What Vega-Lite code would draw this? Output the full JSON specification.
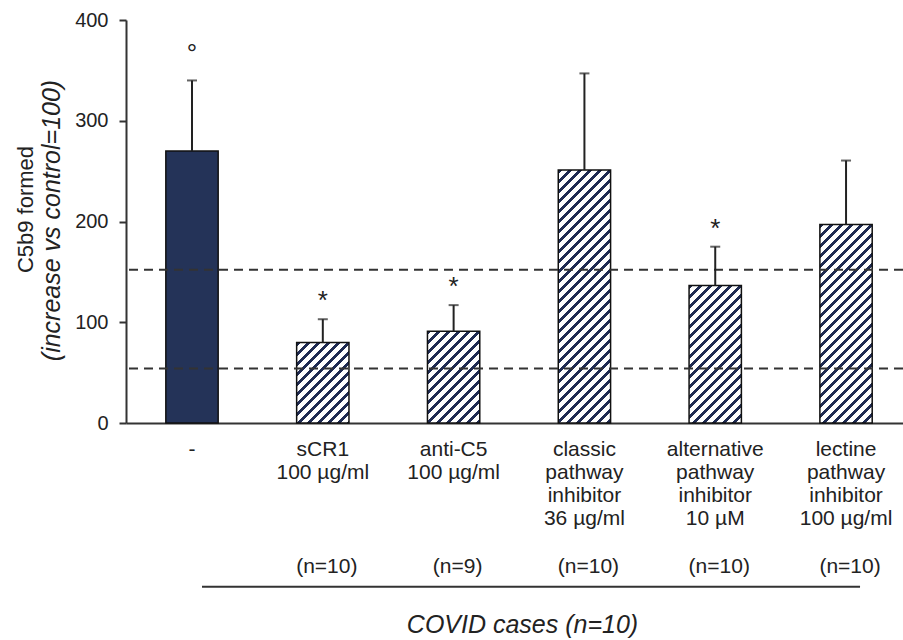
{
  "$schema": "https://vega.github.io/schema/vega-lite/v6.json",
  "width": 777,
  "height": 403,
  "autosize": {"type": "none"},
  "padding": {"left": 126, "top": 20, "right": 0, "bottom": 217},
  "background": "white",
  "config": {"view": {"stroke": null}, "font": "Liberation Sans", "axis": {"grid": false}},
  "data": {"values": [
    {"name": "-", "label": "-", "mean": 270, "upper": 340, "sig": "°"},
    {"name": "sCR1", "label": "sCR1|100 µg/ml#(n=10)", "mean": 80, "upper": 103, "sig": "*"},
    {"name": "anti-C5", "label": "anti-C5|100 µg/ml#(n=9)", "mean": 91, "upper": 117, "sig": "*"},
    {"name": "classic", "label": "classic|pathway|inhibitor|36 µg/ml#(n=10)", "mean": 251, "upper": 347, "sig": ""},
    {"name": "alternative", "label": "alternative|pathway|inhibitor|10 µM#(n=10)", "mean": 136.6, "upper": 175, "sig": "*"},
    {"name": "lectine", "label": "lectine|pathway|inhibitor|100 µg/ml#(n=10)", "mean": 197, "upper": 260.5, "sig": ""}
  ]},
  "layer": [
    {
      "mark": {"type": "bar", "stroke": "#111", "strokeWidth": 1.5},
      "encoding": {
        "x": {
          "field": "label", "type": "nominal", "sort": null,
          "scale": {
            "domain": ["-", "sCR1|100 µg/ml#(n=10)", "anti-C5|100 µg/ml#(n=9)", "classic|pathway|inhibitor|36 µg/ml#(n=10)", "alternative|pathway|inhibitor|10 µM#(n=10)", "lectine|pathway|inhibitor|100 µg/ml#(n=10)"],
            "paddingInner": 0.6, "paddingOuter": 0.27, "align": 0.564
          },
          "axis": {
            "orient": "bottom",
            "title": "COVID cases (n=10)",
            "labelExpr": "split(split(datum.value, '#')[0], '|')",
            "labelAngle": 0, "labelAlign": "center", "labelBaseline": "top",
            "labelFontSize": 21, "labelLineHeight": 23.3, "labelPadding": 15,
            "labelColor": "#222", "labelLimit": 0, "labelOverlap": false, "labelBound": false,
            "ticks": false, "domainColor": "#333", "domainWidth": 2,
            "titleFontSize": 25, "titleFontStyle": "italic", "titleFontWeight": "normal", "titleColor": "#222",
            "titleX": 396, "titleY": 201, "titleBaseline": "middle", "titleAlign": "center"
          }
        },
        "y": {
          "field": "mean", "type": "quantitative",
          "scale": {"domain": [0, 400], "nice": false},
          "axis": {
            "orient": "left",
            "title": "C5b9 formed", "values": [0, 100, 200, 300, 400],
            "domainColor": "#333", "domainWidth": 2, "tickColor": "#333", "tickWidth": 2, "tickSize": 7,
            "labelFontSize": 20, "labelColor": "#222", "labelPadding": 11,
            "titleFontSize": 22, "titleFontWeight": "normal", "titleColor": "#222",
            "titleX": -101, "titleY": 189, "titleAngle": -90, "titleAlign": "center", "titleBaseline": "middle"
          }
        },
        "fill": {
          "condition": [
            {"test": "datum.name === 'sCR1'", "value": {"gradient": "linear", "x1": 0, "y1": 0, "x2": 1.81288, "y2": 2.79384, "stops": [
              {"offset": 0, "color": "#1f2b52"}, {"offset": 0.0125, "color": "#1f2b52"}, {"offset": 0.0125, "color": "#fff"}, {"offset": 0.03125, "color": "#fff"},
              {"offset": 0.03125, "color": "#1f2b52"}, {"offset": 0.04375, "color": "#1f2b52"}, {"offset": 0.04375, "color": "#fff"}, {"offset": 0.0625, "color": "#fff"},
              {"offset": 0.0625, "color": "#1f2b52"}, {"offset": 0.075, "color": "#1f2b52"}, {"offset": 0.075, "color": "#fff"}, {"offset": 0.09375, "color": "#fff"},
              {"offset": 0.09375, "color": "#1f2b52"}, {"offset": 0.10625, "color": "#1f2b52"}, {"offset": 0.10625, "color": "#fff"}, {"offset": 0.125, "color": "#fff"},
              {"offset": 0.125, "color": "#1f2b52"}, {"offset": 0.1375, "color": "#1f2b52"}, {"offset": 0.1375, "color": "#fff"}, {"offset": 0.15625, "color": "#fff"},
              {"offset": 0.15625, "color": "#1f2b52"}, {"offset": 0.16875, "color": "#1f2b52"}, {"offset": 0.16875, "color": "#fff"}, {"offset": 0.1875, "color": "#fff"},
              {"offset": 0.1875, "color": "#1f2b52"}, {"offset": 0.2, "color": "#1f2b52"}, {"offset": 0.2, "color": "#fff"}, {"offset": 0.21875, "color": "#fff"},
              {"offset": 0.21875, "color": "#1f2b52"}, {"offset": 0.23125, "color": "#1f2b52"}, {"offset": 0.23125, "color": "#fff"}, {"offset": 0.25, "color": "#fff"},
              {"offset": 0.25, "color": "#1f2b52"}, {"offset": 0.2625, "color": "#1f2b52"}, {"offset": 0.2625, "color": "#fff"}, {"offset": 0.28125, "color": "#fff"},
              {"offset": 0.28125, "color": "#1f2b52"}, {"offset": 0.29375, "color": "#1f2b52"}, {"offset": 0.29375, "color": "#fff"}, {"offset": 0.3125, "color": "#fff"},
              {"offset": 0.3125, "color": "#1f2b52"}, {"offset": 0.325, "color": "#1f2b52"}, {"offset": 0.325, "color": "#fff"}, {"offset": 0.34375, "color": "#fff"},
              {"offset": 0.34375, "color": "#1f2b52"}, {"offset": 0.35625, "color": "#1f2b52"}, {"offset": 0.35625, "color": "#fff"}, {"offset": 0.375, "color": "#fff"},
              {"offset": 0.375, "color": "#1f2b52"}, {"offset": 0.3875, "color": "#1f2b52"}, {"offset": 0.3875, "color": "#fff"}, {"offset": 0.40625, "color": "#fff"},
              {"offset": 0.40625, "color": "#1f2b52"}, {"offset": 0.41875, "color": "#1f2b52"}, {"offset": 0.41875, "color": "#fff"}, {"offset": 0.4375, "color": "#fff"}
            ]}},
            {"test": "datum.name === 'anti-C5'", "value": {"gradient": "linear", "x1": 0, "y1": 0, "x2": 1.50179, "y2": 2.63317, "stops": [
              {"offset": 0, "color": "#1f2b52"}, {"offset": 0.0125, "color": "#1f2b52"}, {"offset": 0.0125, "color": "#fff"}, {"offset": 0.03125, "color": "#fff"},
              {"offset": 0.03125, "color": "#1f2b52"}, {"offset": 0.04375, "color": "#1f2b52"}, {"offset": 0.04375, "color": "#fff"}, {"offset": 0.0625, "color": "#fff"},
              {"offset": 0.0625, "color": "#1f2b52"}, {"offset": 0.075, "color": "#1f2b52"}, {"offset": 0.075, "color": "#fff"}, {"offset": 0.09375, "color": "#fff"},
              {"offset": 0.09375, "color": "#1f2b52"}, {"offset": 0.10625, "color": "#1f2b52"}, {"offset": 0.10625, "color": "#fff"}, {"offset": 0.125, "color": "#fff"},
              {"offset": 0.125, "color": "#1f2b52"}, {"offset": 0.1375, "color": "#1f2b52"}, {"offset": 0.1375, "color": "#fff"}, {"offset": 0.15625, "color": "#fff"},
              {"offset": 0.15625, "color": "#1f2b52"}, {"offset": 0.16875, "color": "#1f2b52"}, {"offset": 0.16875, "color": "#fff"}, {"offset": 0.1875, "color": "#fff"},
              {"offset": 0.1875, "color": "#1f2b52"}, {"offset": 0.2, "color": "#1f2b52"}, {"offset": 0.2, "color": "#fff"}, {"offset": 0.21875, "color": "#fff"},
              {"offset": 0.21875, "color": "#1f2b52"}, {"offset": 0.23125, "color": "#1f2b52"}, {"offset": 0.23125, "color": "#fff"}, {"offset": 0.25, "color": "#fff"},
              {"offset": 0.25, "color": "#1f2b52"}, {"offset": 0.2625, "color": "#1f2b52"}, {"offset": 0.2625, "color": "#fff"}, {"offset": 0.28125, "color": "#fff"},
              {"offset": 0.28125, "color": "#1f2b52"}, {"offset": 0.29375, "color": "#1f2b52"}, {"offset": 0.29375, "color": "#fff"}, {"offset": 0.3125, "color": "#fff"},
              {"offset": 0.3125, "color": "#1f2b52"}, {"offset": 0.325, "color": "#1f2b52"}, {"offset": 0.325, "color": "#fff"}, {"offset": 0.34375, "color": "#fff"},
              {"offset": 0.34375, "color": "#1f2b52"}, {"offset": 0.35625, "color": "#1f2b52"}, {"offset": 0.35625, "color": "#fff"}, {"offset": 0.375, "color": "#fff"},
              {"offset": 0.375, "color": "#1f2b52"}, {"offset": 0.3875, "color": "#1f2b52"}, {"offset": 0.3875, "color": "#fff"}, {"offset": 0.40625, "color": "#fff"},
              {"offset": 0.40625, "color": "#1f2b52"}, {"offset": 0.41875, "color": "#1f2b52"}, {"offset": 0.41875, "color": "#fff"}, {"offset": 0.4375, "color": "#fff"},
              {"offset": 0.4375, "color": "#1f2b52"}, {"offset": 0.45, "color": "#1f2b52"}, {"offset": 0.45, "color": "#fff"}, {"offset": 0.46875, "color": "#fff"}
            ]}},
            {"test": "datum.name === 'classic'", "value": {"gradient": "linear", "x1": 0, "y1": 0, "x2": 0.25094, "y2": 1.21342, "stops": [
              {"offset": 0, "color": "#1f2b52"}, {"offset": 0.0125, "color": "#1f2b52"}, {"offset": 0.0125, "color": "#fff"}, {"offset": 0.03125, "color": "#fff"},
              {"offset": 0.03125, "color": "#1f2b52"}, {"offset": 0.04375, "color": "#1f2b52"}, {"offset": 0.04375, "color": "#fff"}, {"offset": 0.0625, "color": "#fff"},
              {"offset": 0.0625, "color": "#1f2b52"}, {"offset": 0.075, "color": "#1f2b52"}, {"offset": 0.075, "color": "#fff"}, {"offset": 0.09375, "color": "#fff"},
              {"offset": 0.09375, "color": "#1f2b52"}, {"offset": 0.10625, "color": "#1f2b52"}, {"offset": 0.10625, "color": "#fff"}, {"offset": 0.125, "color": "#fff"},
              {"offset": 0.125, "color": "#1f2b52"}, {"offset": 0.1375, "color": "#1f2b52"}, {"offset": 0.1375, "color": "#fff"}, {"offset": 0.15625, "color": "#fff"},
              {"offset": 0.15625, "color": "#1f2b52"}, {"offset": 0.16875, "color": "#1f2b52"}, {"offset": 0.16875, "color": "#fff"}, {"offset": 0.1875, "color": "#fff"},
              {"offset": 0.1875, "color": "#1f2b52"}, {"offset": 0.2, "color": "#1f2b52"}, {"offset": 0.2, "color": "#fff"}, {"offset": 0.21875, "color": "#fff"},
              {"offset": 0.21875, "color": "#1f2b52"}, {"offset": 0.23125, "color": "#1f2b52"}, {"offset": 0.23125, "color": "#fff"}, {"offset": 0.25, "color": "#fff"},
              {"offset": 0.25, "color": "#1f2b52"}, {"offset": 0.2625, "color": "#1f2b52"}, {"offset": 0.2625, "color": "#fff"}, {"offset": 0.28125, "color": "#fff"},
              {"offset": 0.28125, "color": "#1f2b52"}, {"offset": 0.29375, "color": "#1f2b52"}, {"offset": 0.29375, "color": "#fff"}, {"offset": 0.3125, "color": "#fff"},
              {"offset": 0.3125, "color": "#1f2b52"}, {"offset": 0.325, "color": "#1f2b52"}, {"offset": 0.325, "color": "#fff"}, {"offset": 0.34375, "color": "#fff"},
              {"offset": 0.34375, "color": "#1f2b52"}, {"offset": 0.35625, "color": "#1f2b52"}, {"offset": 0.35625, "color": "#fff"}, {"offset": 0.375, "color": "#fff"},
              {"offset": 0.375, "color": "#1f2b52"}, {"offset": 0.3875, "color": "#1f2b52"}, {"offset": 0.3875, "color": "#fff"}, {"offset": 0.40625, "color": "#fff"},
              {"offset": 0.40625, "color": "#1f2b52"}, {"offset": 0.41875, "color": "#1f2b52"}, {"offset": 0.41875, "color": "#fff"}, {"offset": 0.4375, "color": "#fff"},
              {"offset": 0.4375, "color": "#1f2b52"}, {"offset": 0.45, "color": "#1f2b52"}, {"offset": 0.45, "color": "#fff"}, {"offset": 0.46875, "color": "#fff"},
              {"offset": 0.46875, "color": "#1f2b52"}, {"offset": 0.48125, "color": "#1f2b52"}, {"offset": 0.48125, "color": "#fff"}, {"offset": 0.5, "color": "#fff"},
              {"offset": 0.5, "color": "#1f2b52"}, {"offset": 0.5125, "color": "#1f2b52"}, {"offset": 0.5125, "color": "#fff"}, {"offset": 0.53125, "color": "#fff"},
              {"offset": 0.53125, "color": "#1f2b52"}, {"offset": 0.54375, "color": "#1f2b52"}, {"offset": 0.54375, "color": "#fff"}, {"offset": 0.5625, "color": "#fff"},
              {"offset": 0.5625, "color": "#1f2b52"}, {"offset": 0.575, "color": "#1f2b52"}, {"offset": 0.575, "color": "#fff"}, {"offset": 0.59375, "color": "#fff"},
              {"offset": 0.59375, "color": "#1f2b52"}, {"offset": 0.60625, "color": "#1f2b52"}, {"offset": 0.60625, "color": "#fff"}, {"offset": 0.625, "color": "#fff"},
              {"offset": 0.625, "color": "#1f2b52"}, {"offset": 0.6375, "color": "#1f2b52"}, {"offset": 0.6375, "color": "#fff"}, {"offset": 0.65625, "color": "#fff"},
              {"offset": 0.65625, "color": "#1f2b52"}, {"offset": 0.66875, "color": "#1f2b52"}, {"offset": 0.66875, "color": "#fff"}, {"offset": 0.6875, "color": "#fff"},
              {"offset": 0.6875, "color": "#1f2b52"}, {"offset": 0.7, "color": "#1f2b52"}, {"offset": 0.7, "color": "#fff"}, {"offset": 0.71875, "color": "#fff"},
              {"offset": 0.71875, "color": "#1f2b52"}, {"offset": 0.73125, "color": "#1f2b52"}, {"offset": 0.73125, "color": "#fff"}, {"offset": 0.75, "color": "#fff"},
              {"offset": 0.75, "color": "#1f2b52"}, {"offset": 0.7625, "color": "#1f2b52"}, {"offset": 0.7625, "color": "#fff"}, {"offset": 0.78125, "color": "#fff"},
              {"offset": 0.78125, "color": "#1f2b52"}, {"offset": 0.79375, "color": "#1f2b52"}, {"offset": 0.79375, "color": "#fff"}, {"offset": 0.8125, "color": "#fff"},
              {"offset": 0.8125, "color": "#1f2b52"}, {"offset": 0.825, "color": "#1f2b52"}, {"offset": 0.825, "color": "#fff"}, {"offset": 0.84375, "color": "#fff"},
              {"offset": 0.84375, "color": "#1f2b52"}, {"offset": 0.85625, "color": "#1f2b52"}, {"offset": 0.85625, "color": "#fff"}, {"offset": 0.875, "color": "#fff"},
              {"offset": 0.875, "color": "#1f2b52"}, {"offset": 0.8875, "color": "#1f2b52"}, {"offset": 0.8875, "color": "#fff"}, {"offset": 0.90625, "color": "#fff"},
              {"offset": 0.90625, "color": "#1f2b52"}, {"offset": 0.91875, "color": "#1f2b52"}, {"offset": 0.91875, "color": "#fff"}, {"offset": 0.9375, "color": "#fff"},
              {"offset": 0.9375, "color": "#1f2b52"}, {"offset": 0.95, "color": "#1f2b52"}, {"offset": 0.95, "color": "#fff"}, {"offset": 0.96875, "color": "#fff"}
            ]}},
            {"test": "datum.name === 'alternative'", "value": {"gradient": "linear", "x1": 0, "y1": 0, "x2": 0.77236, "y2": 2.03208, "stops": [
              {"offset": 0, "color": "#1f2b52"}, {"offset": 0.0125, "color": "#1f2b52"}, {"offset": 0.0125, "color": "#fff"}, {"offset": 0.03125, "color": "#fff"},
              {"offset": 0.03125, "color": "#1f2b52"}, {"offset": 0.04375, "color": "#1f2b52"}, {"offset": 0.04375, "color": "#fff"}, {"offset": 0.0625, "color": "#fff"},
              {"offset": 0.0625, "color": "#1f2b52"}, {"offset": 0.075, "color": "#1f2b52"}, {"offset": 0.075, "color": "#fff"}, {"offset": 0.09375, "color": "#fff"},
              {"offset": 0.09375, "color": "#1f2b52"}, {"offset": 0.10625, "color": "#1f2b52"}, {"offset": 0.10625, "color": "#fff"}, {"offset": 0.125, "color": "#fff"},
              {"offset": 0.125, "color": "#1f2b52"}, {"offset": 0.1375, "color": "#1f2b52"}, {"offset": 0.1375, "color": "#fff"}, {"offset": 0.15625, "color": "#fff"},
              {"offset": 0.15625, "color": "#1f2b52"}, {"offset": 0.16875, "color": "#1f2b52"}, {"offset": 0.16875, "color": "#fff"}, {"offset": 0.1875, "color": "#fff"},
              {"offset": 0.1875, "color": "#1f2b52"}, {"offset": 0.2, "color": "#1f2b52"}, {"offset": 0.2, "color": "#fff"}, {"offset": 0.21875, "color": "#fff"},
              {"offset": 0.21875, "color": "#1f2b52"}, {"offset": 0.23125, "color": "#1f2b52"}, {"offset": 0.23125, "color": "#fff"}, {"offset": 0.25, "color": "#fff"},
              {"offset": 0.25, "color": "#1f2b52"}, {"offset": 0.2625, "color": "#1f2b52"}, {"offset": 0.2625, "color": "#fff"}, {"offset": 0.28125, "color": "#fff"},
              {"offset": 0.28125, "color": "#1f2b52"}, {"offset": 0.29375, "color": "#1f2b52"}, {"offset": 0.29375, "color": "#fff"}, {"offset": 0.3125, "color": "#fff"},
              {"offset": 0.3125, "color": "#1f2b52"}, {"offset": 0.325, "color": "#1f2b52"}, {"offset": 0.325, "color": "#fff"}, {"offset": 0.34375, "color": "#fff"},
              {"offset": 0.34375, "color": "#1f2b52"}, {"offset": 0.35625, "color": "#1f2b52"}, {"offset": 0.35625, "color": "#fff"}, {"offset": 0.375, "color": "#fff"},
              {"offset": 0.375, "color": "#1f2b52"}, {"offset": 0.3875, "color": "#1f2b52"}, {"offset": 0.3875, "color": "#fff"}, {"offset": 0.40625, "color": "#fff"},
              {"offset": 0.40625, "color": "#1f2b52"}, {"offset": 0.41875, "color": "#1f2b52"}, {"offset": 0.41875, "color": "#fff"}, {"offset": 0.4375, "color": "#fff"},
              {"offset": 0.4375, "color": "#1f2b52"}, {"offset": 0.45, "color": "#1f2b52"}, {"offset": 0.45, "color": "#fff"}, {"offset": 0.46875, "color": "#fff"},
              {"offset": 0.46875, "color": "#1f2b52"}, {"offset": 0.48125, "color": "#1f2b52"}, {"offset": 0.48125, "color": "#fff"}, {"offset": 0.5, "color": "#fff"},
              {"offset": 0.5, "color": "#1f2b52"}, {"offset": 0.5125, "color": "#1f2b52"}, {"offset": 0.5125, "color": "#fff"}, {"offset": 0.53125, "color": "#fff"},
              {"offset": 0.53125, "color": "#1f2b52"}, {"offset": 0.54375, "color": "#1f2b52"}, {"offset": 0.54375, "color": "#fff"}, {"offset": 0.5625, "color": "#fff"},
              {"offset": 0.5625, "color": "#1f2b52"}, {"offset": 0.575, "color": "#1f2b52"}, {"offset": 0.575, "color": "#fff"}, {"offset": 0.59375, "color": "#fff"},
              {"offset": 0.59375, "color": "#1f2b52"}, {"offset": 0.60625, "color": "#1f2b52"}, {"offset": 0.60625, "color": "#fff"}, {"offset": 0.625, "color": "#fff"}
            ]}},
            {"test": "datum.name === 'lectine'", "value": {"gradient": "linear", "x1": 0, "y1": 0, "x2": 0.39718, "y2": 1.50745, "stops": [
              {"offset": 0, "color": "#1f2b52"}, {"offset": 0.0125, "color": "#1f2b52"}, {"offset": 0.0125, "color": "#fff"}, {"offset": 0.03125, "color": "#fff"},
              {"offset": 0.03125, "color": "#1f2b52"}, {"offset": 0.04375, "color": "#1f2b52"}, {"offset": 0.04375, "color": "#fff"}, {"offset": 0.0625, "color": "#fff"},
              {"offset": 0.0625, "color": "#1f2b52"}, {"offset": 0.075, "color": "#1f2b52"}, {"offset": 0.075, "color": "#fff"}, {"offset": 0.09375, "color": "#fff"},
              {"offset": 0.09375, "color": "#1f2b52"}, {"offset": 0.10625, "color": "#1f2b52"}, {"offset": 0.10625, "color": "#fff"}, {"offset": 0.125, "color": "#fff"},
              {"offset": 0.125, "color": "#1f2b52"}, {"offset": 0.1375, "color": "#1f2b52"}, {"offset": 0.1375, "color": "#fff"}, {"offset": 0.15625, "color": "#fff"},
              {"offset": 0.15625, "color": "#1f2b52"}, {"offset": 0.16875, "color": "#1f2b52"}, {"offset": 0.16875, "color": "#fff"}, {"offset": 0.1875, "color": "#fff"},
              {"offset": 0.1875, "color": "#1f2b52"}, {"offset": 0.2, "color": "#1f2b52"}, {"offset": 0.2, "color": "#fff"}, {"offset": 0.21875, "color": "#fff"},
              {"offset": 0.21875, "color": "#1f2b52"}, {"offset": 0.23125, "color": "#1f2b52"}, {"offset": 0.23125, "color": "#fff"}, {"offset": 0.25, "color": "#fff"},
              {"offset": 0.25, "color": "#1f2b52"}, {"offset": 0.2625, "color": "#1f2b52"}, {"offset": 0.2625, "color": "#fff"}, {"offset": 0.28125, "color": "#fff"},
              {"offset": 0.28125, "color": "#1f2b52"}, {"offset": 0.29375, "color": "#1f2b52"}, {"offset": 0.29375, "color": "#fff"}, {"offset": 0.3125, "color": "#fff"},
              {"offset": 0.3125, "color": "#1f2b52"}, {"offset": 0.325, "color": "#1f2b52"}, {"offset": 0.325, "color": "#fff"}, {"offset": 0.34375, "color": "#fff"},
              {"offset": 0.34375, "color": "#1f2b52"}, {"offset": 0.35625, "color": "#1f2b52"}, {"offset": 0.35625, "color": "#fff"}, {"offset": 0.375, "color": "#fff"},
              {"offset": 0.375, "color": "#1f2b52"}, {"offset": 0.3875, "color": "#1f2b52"}, {"offset": 0.3875, "color": "#fff"}, {"offset": 0.40625, "color": "#fff"},
              {"offset": 0.40625, "color": "#1f2b52"}, {"offset": 0.41875, "color": "#1f2b52"}, {"offset": 0.41875, "color": "#fff"}, {"offset": 0.4375, "color": "#fff"},
              {"offset": 0.4375, "color": "#1f2b52"}, {"offset": 0.45, "color": "#1f2b52"}, {"offset": 0.45, "color": "#fff"}, {"offset": 0.46875, "color": "#fff"},
              {"offset": 0.46875, "color": "#1f2b52"}, {"offset": 0.48125, "color": "#1f2b52"}, {"offset": 0.48125, "color": "#fff"}, {"offset": 0.5, "color": "#fff"},
              {"offset": 0.5, "color": "#1f2b52"}, {"offset": 0.5125, "color": "#1f2b52"}, {"offset": 0.5125, "color": "#fff"}, {"offset": 0.53125, "color": "#fff"},
              {"offset": 0.53125, "color": "#1f2b52"}, {"offset": 0.54375, "color": "#1f2b52"}, {"offset": 0.54375, "color": "#fff"}, {"offset": 0.5625, "color": "#fff"},
              {"offset": 0.5625, "color": "#1f2b52"}, {"offset": 0.575, "color": "#1f2b52"}, {"offset": 0.575, "color": "#fff"}, {"offset": 0.59375, "color": "#fff"},
              {"offset": 0.59375, "color": "#1f2b52"}, {"offset": 0.60625, "color": "#1f2b52"}, {"offset": 0.60625, "color": "#fff"}, {"offset": 0.625, "color": "#fff"},
              {"offset": 0.625, "color": "#1f2b52"}, {"offset": 0.6375, "color": "#1f2b52"}, {"offset": 0.6375, "color": "#fff"}, {"offset": 0.65625, "color": "#fff"},
              {"offset": 0.65625, "color": "#1f2b52"}, {"offset": 0.66875, "color": "#1f2b52"}, {"offset": 0.66875, "color": "#fff"}, {"offset": 0.6875, "color": "#fff"},
              {"offset": 0.6875, "color": "#1f2b52"}, {"offset": 0.7, "color": "#1f2b52"}, {"offset": 0.7, "color": "#fff"}, {"offset": 0.71875, "color": "#fff"},
              {"offset": 0.71875, "color": "#1f2b52"}, {"offset": 0.73125, "color": "#1f2b52"}, {"offset": 0.73125, "color": "#fff"}, {"offset": 0.75, "color": "#fff"},
              {"offset": 0.75, "color": "#1f2b52"}, {"offset": 0.7625, "color": "#1f2b52"}, {"offset": 0.7625, "color": "#fff"}, {"offset": 0.78125, "color": "#fff"},
              {"offset": 0.78125, "color": "#1f2b52"}, {"offset": 0.79375, "color": "#1f2b52"}, {"offset": 0.79375, "color": "#fff"}, {"offset": 0.8125, "color": "#fff"}
            ]}}
          ],
          "value": "#243358"
        }
      }
    },
    {
      "data": {"values": [{"ref": 152}, {"ref": 54}]},
      "mark": {"type": "rule", "strokeDash": [9, 6], "strokeWidth": 2, "color": "#333"},
      "encoding": {
        "y": {
          "field": "ref", "type": "quantitative",
          "scale": {"domain": [0, 400], "nice": false},
          "axis": {
            "orient": "left",
            "title": "(increase vs control=100)", "labels": false, "ticks": false, "domain": false,
            "titleFontSize": 25, "titleFontStyle": "italic", "titleFontWeight": "normal", "titleColor": "#222",
            "titleX": -75, "titleY": 200, "titleAngle": -90, "titleAlign": "center", "titleBaseline": "middle"
          }
        }
      }
    },
    {
      "mark": {"type": "rule", "strokeWidth": 2, "color": "#222"},
      "encoding": {
        "x": {
          "field": "label", "type": "nominal", "sort": null,
          "axis": {
            "orient": "bottom", "title": null,
            "labelExpr": "split(datum.value, '#')[1] || ''",
            "labelAngle": 0, "labelAlign": "center", "labelBaseline": "top",
            "labelFontSize": 21, "labelPadding": 132, "labelOffset": 4,
            "labelColor": "#222", "labelLimit": 0, "labelOverlap": false, "labelBound": false,
            "ticks": false, "domain": false
          }
        },
        "y": {"field": "mean", "type": "quantitative", "axis": null},
        "y2": {"field": "upper"}
      }
    },
    {
      "mark": {"type": "tick", "size": 10, "thickness": 2, "color": "#222", "orient": "horizontal"},
      "encoding": {
        "x": {"field": "label", "type": "nominal", "sort": null, "axis": null},
        "y": {"field": "upper", "type": "quantitative", "axis": null}
      }
    },
    {
      "transform": [{"filter": "datum.sig === '*'"}],
      "mark": {"type": "text", "fontSize": 26, "dy": -10, "baseline": "alphabetic", "color": "#222"},
      "encoding": {
        "x": {"field": "label", "type": "nominal", "sort": null, "axis": null},
        "y": {"field": "upper", "type": "quantitative", "axis": null},
        "text": {"field": "sig"}
      }
    },
    {
      "transform": [{"filter": "datum.sig === '°'"}],
      "mark": {"type": "text", "fontSize": 26, "dy": -18, "baseline": "alphabetic", "color": "#222"},
      "encoding": {
        "x": {"field": "label", "type": "nominal", "sort": null, "axis": null},
        "y": {"field": "upper", "type": "quantitative", "axis": null},
        "text": {"field": "sig"}
      }
    },
    {
      "data": {"values": [{}]},
      "mark": {"type": "rule", "strokeWidth": 2, "color": "#333", "xOffset": 10, "x2Offset": 14},
      "encoding": {
        "x": {"datum": "-", "type": "nominal", "axis": null},
        "x2": {"datum": "lectine|pathway|inhibitor|100 µg/ml#(n=10)"},
        "y": {"datum": -162.5, "type": "quantitative", "axis": null}
      }
    }
  ],
  "resolve": {"axis": {"x": "independent", "y": "independent"}}
}
